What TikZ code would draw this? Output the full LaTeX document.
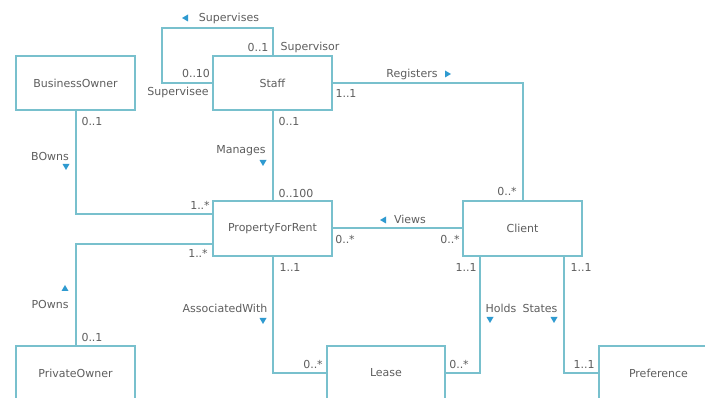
\documentclass[tikz,border=0pt]{standalone}
\usepackage{fontspec}
\setmainfont{DejaVu Sans}
\usetikzlibrary{calc}
\definecolor{linkc}{HTML}{78C0CD}
\definecolor{txtc}{HTML}{5E5E5E}
\definecolor{triblue}{HTML}{2E9AD0}
\tikzset{
  cls/.style={draw=linkc, line width=2pt, fill=white, minimum width=119pt,
    minimum height=54pt, inner sep=0pt, font=\fontsize{11}{13}\selectfont, text=txtc},
  assoc/.style={draw=linkc, line width=2pt},
  lbl/.style={font=\fontsize{11}{13}\selectfont, text=txtc, inner sep=0pt},
  tri/.style={fill=triblue}
}
% small direction markers next to association names
\newcommand{\tridown}[2]{\fill[tri] (#1-3.5,#2-3) -- (#1+3.5,#2-3) -- (#1,#2+3) -- cycle;}
\newcommand{\triup}[2]{\fill[tri] (#1-3.5,#2+3) -- (#1+3.5,#2+3) -- (#1,#2-3) -- cycle;}
\newcommand{\trileft}[2]{\fill[tri] (#1+3,#2-3.5) -- (#1+3,#2+3.5) -- (#1-3,#2) -- cycle;}
\newcommand{\triright}[2]{\fill[tri] (#1-3,#2-3.5) -- (#1-3,#2+3.5) -- (#1+3,#2) -- cycle;}
\begin{document}
\begin{tikzpicture}[x=1pt,y=-1pt]
\useasboundingbox (0,0) rectangle (705,398);
\clip (0,0) rectangle (705,398);
\fill[white] (0,0) rectangle (705,398);

% classes
\node[cls] (bo)     at (75.5,83)   {BusinessOwner};
\node[cls] (staff)  at (272.5,83)  {Staff};
\node[cls, minimum height=55pt] (pfr)    at (272.5,228.5) {PropertyForRent};
\node[cls, minimum height=55pt] (client) at (522.5,228.5) {Client};
\node[cls] (po)     at (75.5,373)  {PrivateOwner};
\node[cls, minimum width=118pt] (lease)  at (386,373) {Lease};
\node[cls] (pref)   at (658.5,373) {Preference};

% associations
\coordinate (loopL) at (162,28);
\draw[assoc] (staff.west) -| (loopL) -| (staff.north);
\draw[assoc] (staff.east) -| (client.north);
\draw[assoc] (staff.south) -- (pfr.north);
\draw[assoc] (bo.south) |- ([yshift=14.5pt]pfr.west);
\draw[assoc] (po.north) |- ([yshift=-15.5pt]pfr.west);
\draw[assoc] (pfr.east) -- (client.west);
\draw[assoc] (pfr.south) |- (lease.west);
\draw[assoc] ([xshift=-42.5pt]client.south) |- (lease.east);
\draw[assoc] ([xshift=41.5pt]client.south) |- (pref.west);

% Supervises
\trileft{185}{18}
\node[lbl] (supn) at (229,18) {Supervises};
\node[lbl] at (258,47) {0..1};
\node[lbl] at (310,47) {Supervisor};
\node[lbl] at (196,73) {0..10};
\node[lbl] at (178,92) {Supervisee};

% Registers
\node[lbl] at (412,74) {Registers};
\triright{448}{74}
\node[lbl] at (346,93) {1..1};
\node[lbl] at (507,191) {0..*};

% Manages
\node[lbl] at (289,121) {0..1};
\node[lbl] at (241,151) {Manages};
\tridown{263}{163}
\node[lbl] at (296,193) {0..100};

% BOwns
\node[lbl] at (92,121) {0..1};
\node[lbl] at (50,156) {BOwns};
\tridown{66}{167}
\node[lbl] at (200,205) {1..*};

% POwns
\node[lbl] at (198,253) {1..*};
\triup{65}{288}
\node[lbl] at (50,304) {POwns};
\node[lbl] at (92,337) {0..1};

% Views
\trileft{383}{220}
\node[lbl] at (410,219) {Views};
\node[lbl] at (345,239) {0..*};
\node[lbl] at (450,239) {0..*};

% AssociatedWith
\node[lbl] at (290,267) {1..1};
\node[lbl] at (225,308) {AssociatedWith};
\tridown{263}{321}
\node[lbl] at (313,364) {0..*};

% Holds
\node[lbl] at (466,267) {1..1};
\node[lbl] at (501,308) {Holds};
\tridown{490}{320}
\node[lbl] at (459,364) {0..*};

% States
\node[lbl] at (581,267) {1..1};
\node[lbl] at (540,308) {States};
\tridown{554}{320}
\node[lbl] at (584,364) {1..1};
\end{tikzpicture}
\end{document}
